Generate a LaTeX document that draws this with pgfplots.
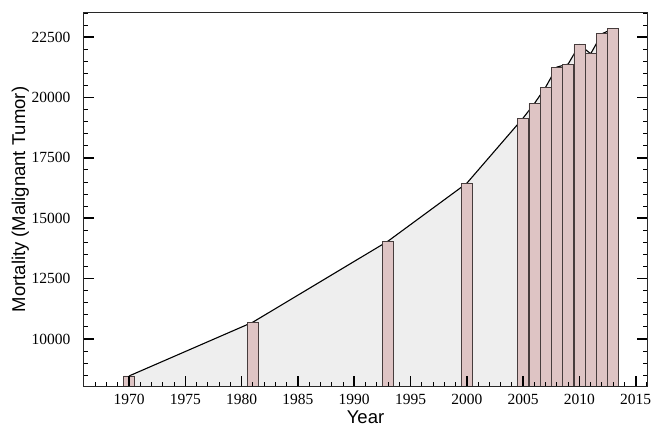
\documentclass[border=0pt]{standalone}
\usepackage{pgfplots}
\pgfplotsset{compat=1.18}
\usepackage{fontspec}
\setmainfont{Liberation Serif}
\newfontfamily\labelfont{Liberation Sans}
\newcommand\tickfont{\rmfamily\fontsize{15.5}{18}\selectfont}
\definecolor{barfill}{RGB}{222,196,196}
\definecolor{bardraw}{RGB}{70,60,60}
\definecolor{areafill}{RGB}{238,238,238}
\definecolor{axisgray}{RGB}{40,40,40}

\begin{document}
\begin{tikzpicture}
\begin{axis}[
  name=ax,
  scale only axis, width=563pt, height=373pt,
  xmin=1966, xmax=2016, ymin=8050, ymax=23500,
  axis on top,
  scaled ticks=false,
  tick align=inside,
  xtick pos=bottom, ytick pos=both,
  xtick={1970,1975,...,2015},
  minor xtick={1967,...,2016},
  ytick={10000,12500,...,22500},
  minor ytick={8500,9000,...,23500},
  major tick length=10pt, minor tick length=4pt,
  every major tick/.append style={line width=1.6pt, black},
  every minor tick/.append style={line width=0.9pt, black},
  axis line style={line width=1pt, axisgray},
  /pgf/number format/assume math mode=true,
  /pgf/number format/1000 sep={},
  xticklabel={\tickfont\pgfmathprintnumber{\tick}},
  yticklabel={\tickfont\pgfmathprintnumber{\tick}},
  xticklabel style={yshift=-5pt},
  yticklabel style={xshift=-10pt},
  xlabel={Year}, ylabel={Mortality (Malignant Tumor)},
  xlabel style={font=\labelfont\fontsize{18.5}{22}\selectfont, yshift=1pt},
  ylabel style={font=\labelfont\fontsize{18.5}{22}\selectfont},
  ylabel shift=-4pt,
]
\addplot[fill=areafill, draw=none] coordinates {
  (1970,8465) (1981,10695) (1993,14050) (2000,16450) (2005,19150) (2006,19750)
  (2007,20430) (2008,21260) (2009,21385) (2010,22185) (2011,21812) (2012,22640) (2013,22850)
} \closedcycle;
\addplot[black, line width=1.1pt] coordinates {
  (1970,8465) (1981,10695) (1993,14050) (2000,16450) (2005,19150) (2006,19750)
  (2007,20430) (2008,21260) (2009,21385) (2010,22185) (2011,21812) (2012,22640) (2013,22850)
};
\addplot[ybar, bar width=11pt, fill=barfill, draw=bardraw, line width=0.8pt] coordinates {
  (1970,8465) (1981,10695) (1993,14050) (2000,16450) (2005,19150) (2006,19750)
  (2007,20430) (2008,21260) (2009,21385) (2010,22185) (2011,21812) (2012,22640) (2013,22850)
};
\end{axis}
\pgfresetboundingbox
\path ([shift={(-84pt,-42pt)}]ax.south west) rectangle ([shift={(6pt,13pt)}]ax.north east);
\end{tikzpicture}
\end{document}
